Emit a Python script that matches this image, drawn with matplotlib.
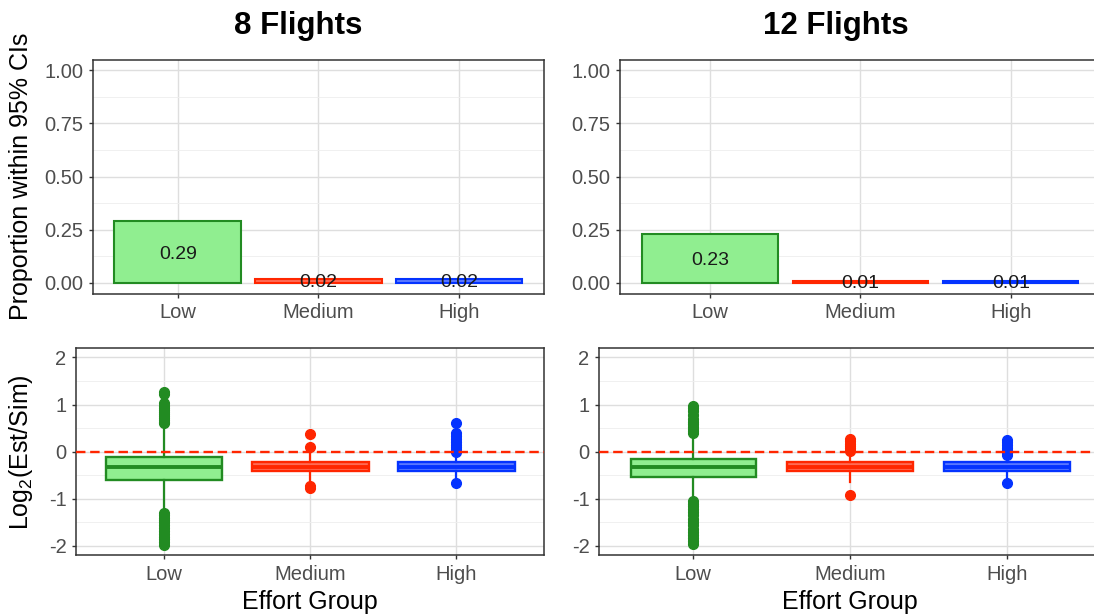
import matplotlib
matplotlib.use('Agg')
import matplotlib.pyplot as plt
import matplotlib.transforms as mtransforms
from matplotlib.ticker import MultipleLocator, FormatStrFormatter
import numpy as np

plt.rcParams['font.family'] = ['Liberation Sans', 'DejaVu Sans']
plt.rcParams['mathtext.fontset'] = 'custom'
plt.rcParams['mathtext.rm'] = 'Liberation Sans'
plt.rcParams['mathtext.it'] = 'Liberation Sans:italic'
plt.rcParams['mathtext.default'] = 'regular'
plt.rcParams['axes.unicode_minus'] = False

groups = ['Low', 'Medium', 'High']
titles = ['8 Flights', '12 Flights']

# proportion of runs whose estimate falls within the 95% CIs
prop_8 = [0.29, 0.02, 0.02]
prop_12 = [0.23, 0.01, 0.01]

# log2(est/sim) box summaries per effort group
q1_8 = [-0.60, -0.42, -0.42]
med_8 = [-0.33, -0.32, -0.33]
q3_8 = [-0.12, -0.21, -0.22]
wlo_8 = [-1.26, -0.64, -0.60]
whi_8 = [0.56, 0.06, -0.04]
fliers_8 = [
    [0.60, 0.64, 0.68, 0.72, 0.76, 0.80, 0.84, 0.88, 0.93, 0.98, 1.03, 1.22, 1.27,
     -1.30, -1.35, -1.40, -1.45, -1.50, -1.56, -1.62, -1.68, -1.74, -1.80, -1.86, -1.92, -1.97],
    [0.09, 0.37, -0.72, -0.77],
    [0.00, 0.05, 0.10, 0.15, 0.20, 0.26, 0.33, 0.40, 0.60, -0.67],
]

q1_12 = [-0.53, -0.42, -0.42]
med_12 = [-0.33, -0.33, -0.33]
q3_12 = [-0.16, -0.22, -0.22]
wlo_12 = [-0.98, -0.64, -0.58]
whi_12 = [0.36, -0.04, -0.10]
fliers_12 = [
    [0.40, 0.44, 0.48, 0.53, 0.58, 0.63, 0.70, 0.78, 0.86, 0.92, 0.96,
     -1.04, -1.10, -1.16, -1.22, -1.28, -1.35, -1.42, -1.49, -1.56, -1.63, -1.70,
     -1.77, -1.84, -1.90, -1.96],
    [0.02, 0.07, 0.12, 0.17, 0.22, 0.27, -0.92],
    [-0.07, -0.02, 0.03, 0.08, 0.14, 0.20, 0.25, -0.67],
]

edge_cols = ['#228B22', '#FF2600', '#0433FF']
fill_cols = ['#90EE90', '#FF6A55', '#5A78FF']

W, H = 1094, 615
fig = plt.figure(figsize=(W / 100, H / 100), dpi=100)


def add_ax(x0, y0, x1, y1):
    return fig.add_axes([x0 / W, 1 - y1 / H, (x1 - x0) / W, (y1 - y0) / H])


def style(ax, minor_step):
    for s in ax.spines.values():
        s.set_color('#333333')
        s.set_linewidth(1.1)
    ax.set_axisbelow(True)
    ax.set_xlim(0.4, 3.6)
    ax.set_xticks([1, 2, 3])
    ax.set_xticklabels(groups)
    ax.yaxis.set_minor_locator(MultipleLocator(minor_step))
    ax.grid(which='major', color='#DEDEDE', linewidth=1.0)
    ax.grid(which='minor', axis='y', color='#EEEEEE', linewidth=0.6)
    ax.tick_params(which='major', length=3, width=1.0, color='#333333',
                   labelsize=14.5, labelcolor='#4D4D4D', pad=4)
    ax.tick_params(which='minor', length=0)


def bar_panel(ax, props):
    pos = np.arange(1, 4)
    ax.bar(pos, props, width=0.9, color=fill_cols, edgecolor=edge_cols, linewidth=1.5)
    off = mtransforms.offset_copy(ax.transData, fig=fig, y=-2, units='dots')
    for p, v in zip(pos, props):
        ax.text(p, v / 2, f'{v:.2f}', ha='center', va='center', fontsize=14,
                color='#1A1A1A', transform=off)
    ax.set_ylim(-0.05, 1.05)
    ax.set_yticks([0, 0.25, 0.5, 0.75, 1.0])
    ax.yaxis.set_major_formatter(FormatStrFormatter('%.2f'))
    style(ax, 0.125)


def box_panel(ax, q1, med, q3, wlo, whi, fliers):
    for i in range(3):
        st = dict(q1=q1[i], med=med[i], q3=q3[i], whislo=wlo[i], whishi=whi[i],
                  fliers=np.array(fliers[i]))
        ax.bxp([st], positions=[i + 1], widths=0.8, patch_artist=True, showcaps=False,
               boxprops=dict(facecolor=fill_cols[i], edgecolor=edge_cols[i], linewidth=1.7),
               medianprops=dict(color=edge_cols[i], linewidth=2.8),
               whiskerprops=dict(color=edge_cols[i], linewidth=1.6),
               flierprops=dict(marker='o', markerfacecolor=edge_cols[i],
                               markeredgecolor=edge_cols[i], markersize=7))
    ax.axhline(0, color='#FF2600', linestyle=(0, (4, 2)), linewidth=1.7, zorder=4)
    ax.set_ylim(-2.2, 2.2)
    ax.set_yticks([-2, -1, 0, 1, 2])
    style(ax, 0.5)


ax_tl = add_ax(93.3, 59.5, 543.5, 293.5)
ax_bl = add_ax(76.3, 348, 544, 555.4)
ax_tr = add_ax(619.8, 59.5, 1101, 293.5)
ax_br = add_ax(599.2, 348, 1101, 555.4)

bar_panel(ax_tl, prop_8)
bar_panel(ax_tr, prop_12)
box_panel(ax_bl, q1_8, med_8, q3_8, wlo_8, whi_8, fliers_8)
box_panel(ax_br, q1_12, med_12, q3_12, wlo_12, whi_12, fliers_12)

# column titles and axis titles
fig.text(298 / W, 1 - 34 / H, titles[0], ha='center', va='baseline',
         fontsize=22.5, fontweight='bold')
fig.text(836 / W, 1 - 34 / H, titles[1], ha='center', va='baseline',
         fontsize=22.5, fontweight='bold')
fig.text(21 / W, 1 - 176.5 / H, 'Proportion within 95% CIs', rotation=90,
         ha='center', va='center', fontsize=18)
fig.text(21 / W, 1 - 451.7 / H, 'Log$_2$(Est/Sim)', rotation=90,
         ha='center', va='center', fontsize=18)
fig.text(310 / W, 1 - 609 / H, 'Effort Group', ha='center', va='baseline', fontsize=18)
fig.text(850 / W, 1 - 609 / H, 'Effort Group', ha='center', va='baseline', fontsize=18)

fig.savefig('out.png', dpi=100)
